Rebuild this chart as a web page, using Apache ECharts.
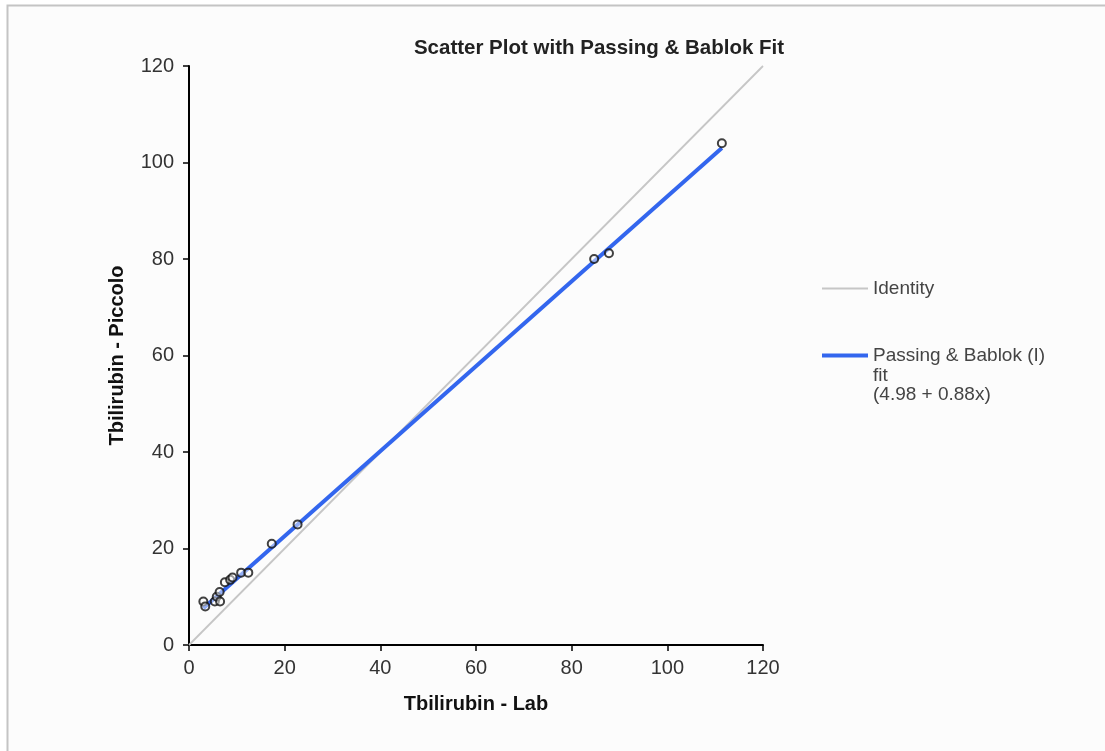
<!DOCTYPE html>
<html lang="en">
	<head>
		<meta charset="UTF-8" />
		<title>Scatter Plot with Passing &amp; Bablok Fit</title>
		<script src="https://cdn.jsdelivr.net/npm/echarts@6/dist/echarts.min.js"></script>
		<style>
			html, body { margin: 0; padding: 0; background: #fff; }
		</style>
	</head>
	<body>
		<div id="myChart" style="width: 1105px; height: 751px"></div>

		<script>
			// measured pairs (Lab, Piccolo)
			const labValues = [3.0, 3.4, 5.4, 5.8, 6.4, 6.5, 7.5, 8.6, 9.1, 10.9, 12.4, 17.3, 22.7, 84.7, 87.8, 111.4];
			const piccoloValues = [9, 8, 9, 10, 11, 9, 13, 13.5, 14, 15, 15, 21, 25, 80, 81.2, 104];
			const identityX = [0, 120];
			const fitIntercept = 4.98;
			const fitSlope = 0.88;
			const fitX = [3, 111.4];
			const tickLabels = [0, 20, 40, 60, 80, 100, 120];

			const font = "Liberation Sans, Arial, sans-serif";
			const chart = echarts.init(document.getElementById("myChart"));

			const points = labValues.map((x, i) => [x, piccoloValues[i]]);
			const identity = identityX.map((x) => [x, x]);
			const fitLine = fitX.map((x) => [x, fitIntercept + fitSlope * x]);

			const axisCommon = {
				type: "value",
				min: tickLabels[0],
				max: tickLabels[tickLabels.length - 1],
				interval: 20,
				axisLine: { show: true, onZero: false, lineStyle: { color: "#000", width: 2 } },
				axisTick: { show: true, inside: false, length: 6, lineStyle: { color: "#000", width: 1.5 } },
				splitLine: { show: false },
				axisLabel: { fontFamily: font, fontSize: 20, color: "#333" },
				nameLocation: "middle",
				nameTextStyle: { fontFamily: font, fontSize: 20, fontWeight: "bold", color: "#111" },
			};

			const legendText = { fontFamily: font, fontSize: 19, color: "#444" };

			const option = {
				animation: false,
				backgroundColor: "#fff",
				title: {
					text: "Scatter Plot with Passing & Bablok Fit",
					left: 594,
					top: 33,
					textAlign: "center",
					textStyle: { fontFamily: font, fontSize: 20.5, fontWeight: "bold", color: "#222" },
				},
				grid: { left: 189, right: 342, top: 66, bottom: 106, containLabel: false },
				xAxis: Object.assign({}, axisCommon, {
					name: "Tbilirubin - Lab",
					nameGap: 49,
					axisLabel: Object.assign({}, axisCommon.axisLabel, { margin: 13 }),
				}),
				yAxis: Object.assign({}, axisCommon, {
					name: "Tbilirubin - Piccolo",
					nameGap: 62,
					axisLabel: Object.assign({}, axisCommon.axisLabel, { margin: 15 }),
				}),
				legend: [
					{
						left: 817,
						top: 274,
						itemWidth: 46,
						itemHeight: 2,
						icon: "rect",
						data: ["Identity"],
						textStyle: legendText,
					},
					{
						left: 817,
						top: 341,
						itemWidth: 46,
						itemHeight: 4,
						icon: "rect",
						data: ["Passing & Bablok (I)"],
						textStyle: legendText,
					},
				],
				graphic: [
					{
						type: "rect",
						z: -10,
						silent: true,
						shape: { x: 7.5, y: 5.5, width: 1120, height: 760 },
						style: { fill: "#fcfcfc", stroke: "#c4c4c4", lineWidth: 2 },
					},
					{
						type: "text",
						left: 873,
						top: 366,
						silent: true,
						style: {
							text: "fit\n(4.98 + 0.88x)",
							fontFamily: font,
							fontSize: 19,
							lineHeight: 19,
							fill: "#444",
						},
					},
				],
				series: [
					{
						name: "Identity",
						type: "line",
						data: identity,
						symbol: "none",
						lineStyle: { color: "#c6c6c6", width: 1.8 },
						itemStyle: { color: "#c6c6c6" },
						z: 1,
					},
					{
						name: "Passing & Bablok (I)",
						type: "line",
						data: fitLine,
						symbol: "none",
						lineStyle: { color: "#3366ee", width: 4 },
						itemStyle: { color: "#3366ee" },
						z: 2,
					},
					{
						name: "Data",
						type: "scatter",
						data: points,
						symbol: "circle",
						symbolSize: 8,
						itemStyle: { color: "rgba(255,255,255,0.6)", borderColor: "#111", borderWidth: 2 },
						z: 3,
					},
				],
			};

			chart.setOption(option);
		</script>
	</body>
</html>
